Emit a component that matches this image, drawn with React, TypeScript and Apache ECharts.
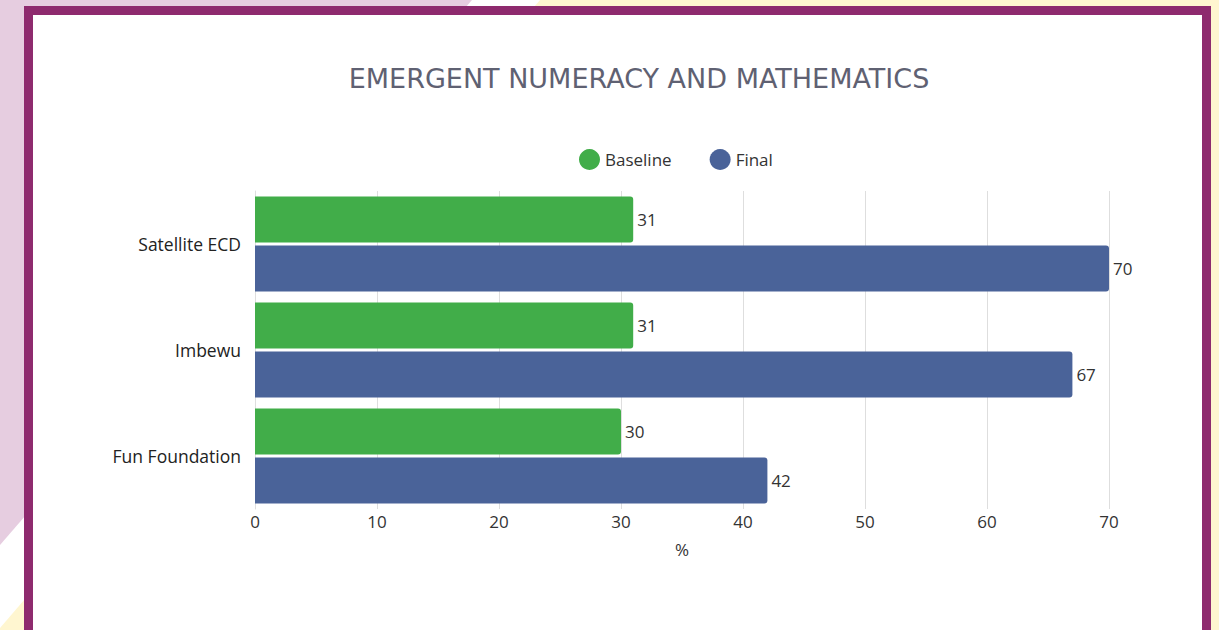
import React, { useEffect, useRef } from "react";
import * as echarts from "echarts";

const categories = ["Satellite ECD", "Imbewu", "Fun Foundation"];
const baseline = [31, 31, 30];
const finalVals = [70, 67, 42];
const xTicks = [0, 10, 20, 30, 40, 50, 60, 70];

const FONT = "'Open Sans', sans-serif";

export default function App() {
  const ref = useRef<HTMLDivElement>(null);
  useEffect(() => {
    if (!ref.current) return;
    const chart = echarts.init(ref.current, null, { renderer: "svg" });
    chart.setOption({
      animation: false,
      backgroundColor: "#ffffff",
      graphic: [
        { type: "polygon", z: -10, shape: { points: [[0, 0], [1219, 0], [1219, 630], [0, 630]] }, style: { fill: "#fff6d0" } },
        { type: "polygon", z: -9, shape: { points: [[0, 0], [540, 0], [0, 628]] }, style: { fill: "#ffffff" } },
        { type: "polygon", z: -8, shape: { points: [[0, 0], [472, 0], [0, 545]] }, style: { fill: "#e6cde0" } },
        { type: "rect", z: -7, shape: { x: 24, y: 6, width: 1187, height: 640 }, style: { fill: "#8e2a6e" } },
        { type: "rect", z: -6, shape: { x: 33, y: 15, width: 1169, height: 640 }, style: { fill: "#ffffff" } },
      ],
      title: {
        text: "EMERGENT NUMERACY AND MATHEMATICS",
        left: 634,
        textAlign: "center",
        top: 60,
        textStyle: { fontFamily: "'DejaVu Sans', sans-serif", fontSize: 27, fontWeight: "normal", color: "#5f6172" },
      },
      legend: {
        top: 144,
        left: 574,
        itemWidth: 21,
        itemHeight: 21,
        itemGap: 38,
        icon: "circle",
        textStyle: { fontFamily: FONT, fontSize: 17, color: "#333" },
        data: ["Baseline", "Final"],
      },
      grid: { left: 255, right: 110, top: 191, bottom: 121, containLabel: false },
      xAxis: {
        type: "value",
        min: xTicks[0],
        max: xTicks[xTicks.length - 1],
        interval: 10,
        name: "%",
        nameLocation: "middle",
        nameGap: 32,
        nameTextStyle: { fontFamily: FONT, fontSize: 17, color: "#333" },
        axisLabel: { fontFamily: FONT, fontSize: 17, color: "#333", margin: 4 },
        axisLine: { show: false },
        axisTick: { show: false },
        splitLine: { lineStyle: { color: "#dedede" } },
      },
      yAxis: {
        type: "category",
        data: categories,
        inverse: true,
        axisLabel: { fontFamily: FONT, fontSize: 17.5, color: "#222", margin: 14 },
        axisLine: { lineStyle: { color: "#dedede" } },
        axisTick: { show: false },
      },
      series: [
        {
          name: "Baseline",
          type: "bar",
          data: baseline,
          barWidth: 46,
          barGap: "6%",
          itemStyle: { color: "#41ad49", borderRadius: [0, 3, 3, 0] },
          label: { show: true, position: "right", fontFamily: FONT, fontSize: 17, color: "#333", distance: 4 },
        },
        {
          name: "Final",
          type: "bar",
          data: finalVals,
          barWidth: 46,
          itemStyle: { color: "#4a6399", borderRadius: [0, 3, 3, 0] },
          label: { show: true, position: "right", fontFamily: FONT, fontSize: 17, color: "#333", distance: 4 },
        },
      ],
    });
    return () => chart.dispose();
  }, []);
  return <div ref={ref} style={{ position: "fixed", left: 0, top: 0, width: 1219, height: 630 }} />;
}
